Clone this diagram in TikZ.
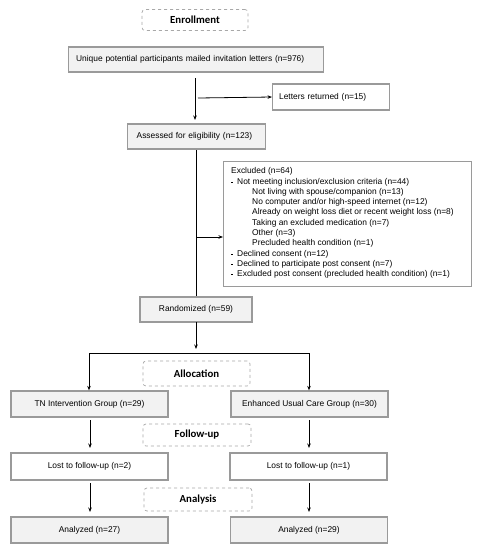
\documentclass[tikz,border=0pt]{standalone}
\usepackage{fontspec}
\setmainfont{Liberation Sans}
\newfontfamily\headfont{Carlito}
\usetikzlibrary{arrows.meta}
\definecolor{boxline}{HTML}{9A9A9A}
\definecolor{boxfill}{HTML}{F2F2F2}
\definecolor{dashline}{HTML}{A8A8A8}
\tikzset{
  gbox/.style={draw=boxline, line width=1.3pt, fill=boxfill, inner sep=0pt, font=\fontsize{8.4}{10}\selectfont},
  wbox/.style={draw=boxline, line width=1.3pt, fill=white, inner sep=0pt, font=\fontsize{8.4}{10}\selectfont},
  stage/.style={draw=dashline, dashed, line width=0.7pt, rounded corners=3pt, inner sep=0pt, font=\headfont\bfseries\fontsize{10.8}{12}\selectfont},
  arr/.style={-{Stealth[length=4.5pt,width=3.5pt]}, line width=0.8pt},
  ln/.style={line width=0.8pt},
}
\newcommand{\bulletdash}{\makebox[6pt][l]{\raisebox{2pt}{\rule{1.6pt}{0.5pt}}}}
\begin{document}
\begin{tikzpicture}[x=1pt,y=-1pt]
\useasboundingbox (0,0) rectangle (477,550);
% stage boxes
\node[stage, minimum width=106pt, minimum height=21pt] (enr) at (195,20) {Enrollment};
\node[stage, minimum width=107pt, minimum height=25pt] (alloc) at (196.5,373.5) {Allocation};
\node[stage, minimum width=108pt, minimum height=22pt] (fu) at (197,435) {Follow-up};
\node[stage, minimum width=108pt, minimum height=23pt] (ana) at (198,499.5) {Analysis};
% main boxes
\node[gbox, minimum width=255pt, minimum height=25pt, anchor=west, text width=240pt, align=left] (uniq) at (68,59.5) {Unique potential participants mailed invitation letters (n=976)};
\node[wbox, minimum width=117pt, minimum height=26pt, anchor=west, text width=104pt, align=left] (ret) at (272,97) {Letters returned (n=15)};
\node[gbox, minimum width=138pt, minimum height=25pt, anchor=west, text width=120pt, align=left] (ass) at (127,136.5) {Assessed for eligibility (n=123)};
\node[wbox, minimum width=248pt, minimum height=125pt, anchor=north west] (exc) at (223,161) {};
\node[anchor=north west, inner sep=0pt, font=\fontsize{8.4}{10.3}\selectfont, align=left] (exctxt) at (231,167.5) {%
Excluded (n=64)\\
\bulletdash Not meeting inclusion/exclusion criteria (n=44)\\
\hspace*{21pt}Not living with spouse/companion (n=13)\\
\hspace*{21pt}No computer and/or high-speed internet (n=12)\\
\hspace*{21pt}Already on weight loss diet or recent weight loss (n=8)\\
\hspace*{21pt}Taking an excluded medication (n=7)\\
\hspace*{21pt}Other (n=3)\\
\hspace*{21pt}Precluded health condition (n=1)\\
\bulletdash Declined consent (n=12)\\
\bulletdash Declined to participate post consent (n=7)\\
\bulletdash Excluded post consent (precluded health condition) (n=1)};
\node[gbox, minimum width=112pt, minimum height=25pt] (rand) at (196,309.5) {Randomized (n=59)};
\node[gbox, minimum width=157pt, minimum height=26pt] (tn) at (89.5,404) {TN Intervention Group (n=29)};
\node[gbox, minimum width=157pt, minimum height=26pt] (euc) at (309.5,404) {Enhanced Usual Care Group (n=30)};
\node[wbox, minimum width=157pt, minimum height=27pt] (lost1) at (89.5,466.5) {Lost to follow-up (n=2)};
\node[wbox, minimum width=157pt, minimum height=27pt] (lost2) at (308.5,466.5) {Lost to follow-up (n=1)};
\node[gbox, minimum width=157pt, minimum height=26pt] (an1) at (89.5,530) {Analyzed (n=27)};
\node[gbox, minimum width=157pt, minimum height=26pt] (an2) at (309,530) {Analyzed (n=29)};
% coordinates
\coordinate (a1) at (195,78);
\coordinate (a2) at (195,120);
\coordinate (b1) at (198,98);
\coordinate (c1) at (196,150);
\coordinate (c2) at (196,237);
\coordinate (r1) at (196,322);
\coordinate (r2) at (196,349);
\coordinate (hl) at (89,353);
\coordinate (hr) at (309,353);
\coordinate (l1) at (90,420);  \coordinate (l2) at (90,448);
\coordinate (l3) at (90,483);  \coordinate (l4) at (90,512);
\coordinate (m1) at (309,420); \coordinate (m2) at (309,448);
\coordinate (m3) at (309,483); \coordinate (m4) at (309,512);
% connectors
\draw[arr] (a1) -- (a2);
\draw[arr] (b1) -- (ret.west);
\draw[ln] (c1) -- (rand.north -| c1);
\draw[arr] (c2) -- (exc.west |- c2);
\draw[arr] (r1) -- (r2);
\draw[ln] (hl) -- (hr);
\draw[arr] (hl) -- (tn.north -| hl);
\draw[arr] (hr) -- (euc.north -| hr);
\draw[arr] (l1) -- (l2);
\draw[arr] (m1) -- (m2);
\draw[arr] (l3) -- (l4);
\draw[arr] (m3) -- (m4);
\end{tikzpicture}
\end{document}
